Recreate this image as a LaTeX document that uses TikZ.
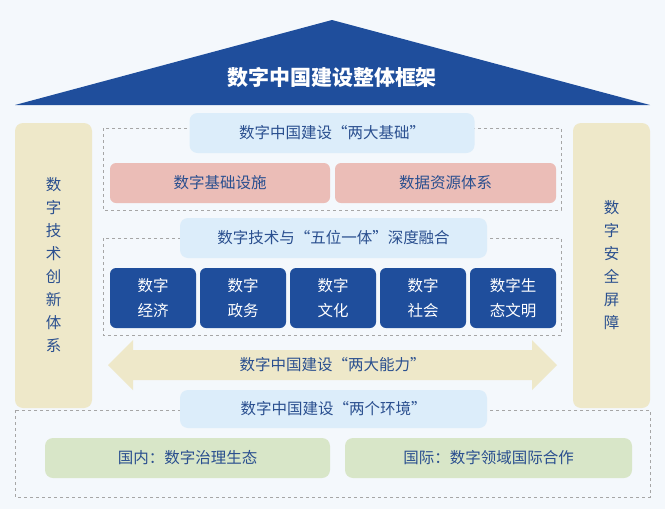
\documentclass[tikz,border=0pt]{standalone}
\usepackage{fontspec}
\setmainfont{Noto Sans CJK SC}
\usetikzlibrary{positioning}
\definecolor{roofblue}{HTML}{1F4E9C}
\definecolor{pillbg}{HTML}{DCEDFA}
\definecolor{pinkbox}{HTML}{EBBDB7}
\definecolor{beige}{HTML}{EEE8C9}
\definecolor{greenbox}{HTML}{D8E6C8}
\definecolor{pagebg}{HTML}{F4F8FC}
\definecolor{txtblue}{HTML}{2A4F8F}
\tikzset{
  pill/.style={fill=pillbg, rounded corners=8pt, text=txtblue, font=\fontsize{15.5}{18}\selectfont},
  basebox/.style={fill=pinkbox, rounded corners=6pt, text=txtblue, font=\fontsize{15.5}{18}\selectfont},
  fivebox/.style={fill=roofblue, rounded corners=6pt, text=white, align=center, font=\fontsize{15.5}{25}\selectfont},
  envbox/.style={fill=greenbox, rounded corners=8pt, text=txtblue, font=\fontsize{15.5}{18}\selectfont},
  pillar/.style={fill=beige, rounded corners=8pt, text=txtblue, align=center, font=\fontsize{15.5}{23}\selectfont},
  framebox/.style={draw=gray!70, dashed, line width=0.5pt}
}
\begin{document}
\begin{tikzpicture}[x=1pt, y=-1pt]
  \fill[pagebg] (0,0) rectangle (665,509);
  \useasboundingbox (0,0) rectangle (665,509);
  % roof
  \fill[roofblue] (15,105) -- (332,20) -- (650,105) -- cycle;
  \node[text=white, font=\fontsize{21}{24}\selectfont\bfseries] (roof) at (332,77) {数字中国建设整体框架};
  % pillars
  \node[pillar, minimum width=77pt, minimum height=285pt] (leftp) at (53.5,265.5) {数\\字\\技\\术\\创\\新\\体\\系};
  \node[pillar, minimum width=77pt, minimum height=285pt] (rightp) at (611.5,265.5) {数\\字\\安\\全\\屏\\障};
  % dashed frames
  \draw[framebox] (103,128) rectangle (561,210);
  \draw[framebox] (103,238) rectangle (561,335);
  \draw[framebox] (15,410) rectangle (650,497);
  % two foundations
  \node[pill, minimum width=285pt, minimum height=40pt] (found) at (332,133) {数字中国建设“两大基础”};
  \node[basebox, minimum width=220pt, minimum height=40pt] (infra) at (220,183) {数字基础设施};
  \node[basebox, minimum width=221pt, minimum height=40pt] (data) at (445.5,183) {数据资源体系};
  % five-in-one
  \node[pill, minimum width=307pt, minimum height=40pt] (fusion) at (333.5,238) {数字技术与“五位一体”深度融合};
  \foreach \x/\t [count=\i] in {153/{数字\\经济}, 243/{数字\\政务}, 333/{数字\\文化}, 423/{数字\\社会}, 513/{数字生\\态文明}}
    \node[fivebox, minimum width=86pt, minimum height=60pt] (five\i) at (\x,298) {\t};
  % two capabilities
  \fill[beige] (108,365) -- (133,340) -- (133,350) -- (532,350) -- (532,340) -- (557,365)
    -- (532,390) -- (532,380) -- (133,380) -- (133,390) -- cycle;
  \node[text=txtblue, font=\fontsize{15.5}{18}\selectfont] (ability) at (332.5,365) {数字中国建设“两大能力”};
  % two environments
  \node[pill, minimum width=307pt, minimum height=38pt] (envt) at (333.5,409) {数字中国建设“两个环境”};
  \node[envbox, minimum width=285pt, minimum height=40pt] (home) at (187.5,458) {国内：数字治理生态};
  \node[envbox, minimum width=287pt, minimum height=40pt] (intl) at (488.5,458) {国际：数字领域国际合作};
\end{tikzpicture}
\end{document}
